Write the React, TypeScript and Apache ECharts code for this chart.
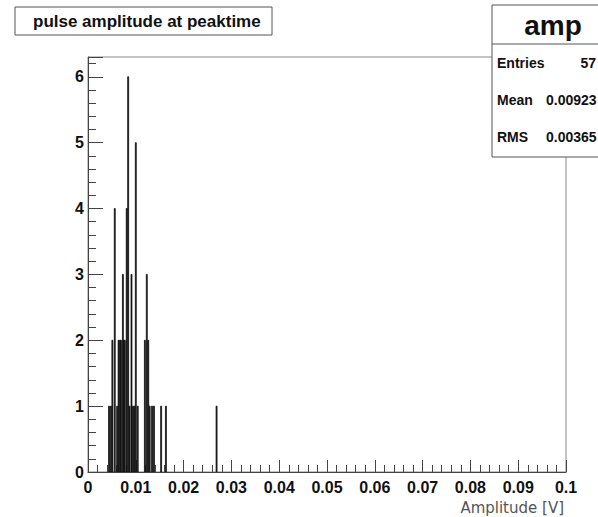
import React, { useEffect, useRef } from "react";
import * as echarts from "echarts";

// Histogram bins (bin centers in V) and counts
const binCenters = [
  0.0044, 0.0048, 0.0051, 0.0056, 0.0061, 0.0064, 0.0067, 0.0069, 0.0073, 0.0075,
  0.0077, 0.0081, 0.0084, 0.0087, 0.0091, 0.0094, 0.0097, 0.0100, 0.0104, 0.0119,
  0.0123, 0.0126, 0.0129, 0.0134, 0.0138, 0.0153, 0.0163, 0.0269,
];
const counts = [
  1, 1, 2, 4, 1, 2, 2, 2, 3, 2,
  2, 4, 6, 1, 3, 1, 1, 5, 1, 2,
  3, 2, 1, 1, 1, 1, 1, 1,
];
const binWidth = 0.0002;

const titleText = "pulse amplitude at peaktime";
const statsName = "amp";
const statLabels = ["Entries", "Mean", "RMS"];
const statValues = ["57", "0.00923", "0.00365"];
const xTitle = "Amplitude [V]";

const FONT = "'Liberation Sans', Arial, Helvetica, sans-serif";

export default function App() {
  const ref = useRef<HTMLDivElement>(null);
  useEffect(() => {
    if (!ref.current) return;
    const chart = echarts.init(ref.current, null, { renderer: "svg" });
    const data = binCenters.map((c, i) => [c, counts[i]]);
    const axisColor = "#444";
    const option: any = {
      animation: false,
      backgroundColor: "#fff",
      grid: {
        left: 88,
        top: 57,
        width: 478,
        height: 415,
        show: true,
        borderColor: "#888",
        borderWidth: 1,
        backgroundColor: "transparent",
      },
      xAxis: [
        {
          type: "value",
          min: 0,
          max: 0.1,
          interval: 0.01,
          axisLine: { show: true, lineStyle: { color: axisColor, width: 1 } },
          axisTick: { show: true, inside: true, length: 12, lineStyle: { color: axisColor } },
          minorTick: { show: true, splitNumber: 5, length: 7, lineStyle: { color: axisColor } },
          splitLine: { show: false },
          axisLabel: {
            margin: 7,
            fontFamily: FONT,
            fontSize: 16,
            fontWeight: "bold",
            color: "#111",
            formatter: (v: number) => String(parseFloat(v.toFixed(3))),
          },
        },
      ],
      yAxis: [
        {
          type: "value",
          min: 0,
          max: 6.3,
          interval: 1,
          axisLine: { show: true, lineStyle: { color: axisColor, width: 1 } },
          axisTick: { show: true, inside: true, length: 15, lineStyle: { color: axisColor } },
          splitLine: { show: false },
          axisLabel: {
            margin: 4,
            fontFamily: FONT,
            fontSize: 16,
            fontWeight: "bold",
            color: "#111",
            formatter: (v: number) => (v > 6.01 ? "" : String(Math.round(v))),
          },
        },
        {
          type: "value",
          position: "left",
          min: 0,
          max: 6.3,
          interval: 0.2,
          axisLine: { show: false },
          axisTick: { show: true, inside: true, length: 8, lineStyle: { color: axisColor } },
          splitLine: { show: false },
          axisLabel: { show: false },
        },
      ],
      series: [
        {
          type: "custom",
          xAxisIndex: 0,
          yAxisIndex: 0,
          data,
          clip: true,
          renderItem: (params: any, api: any) => {
            const x = api.value(0);
            const y = api.value(1);
            const p0 = api.coord([x - binWidth / 2, y]);
            const p1 = api.coord([x + binWidth / 2, 0]);
            return {
              type: "rect",
              shape: {
                x: p0[0],
                y: p0[1],
                width: Math.max(p1[0] - p0[0], 0.8),
                height: p1[1] - p0[1],
              },
              style: { fill: "#111", stroke: "#111", lineWidth: 0.8 },
            };
          },
        },
      ],
      graphic: [
        {
          type: "rect",
          shape: { x: 15, y: 7, width: 257, height: 28 },
          style: { fill: "#fff", stroke: "#555", lineWidth: 1 },
        },
        {
          type: "text",
          x: 33,
          y: 21,
          style: {
            text: titleText,
            font: `bold 17px ${FONT}`,
            fill: "#111",
            verticalAlign: "middle",
          },
        },
        {
          type: "rect",
          shape: { x: 492, y: 5, width: 140, height: 152 },
          style: { fill: "#fff", stroke: "#555", lineWidth: 1 },
        },
        {
          type: "line",
          shape: { x1: 492, y1: 44, x2: 640, y2: 44 },
          style: { stroke: "#555", lineWidth: 1 },
        },
        {
          type: "text",
          x: 553,
          y: 25,
          style: {
            text: statsName,
            font: `bold 28px ${FONT}`,
            fill: "#111",
            align: "center",
            verticalAlign: "middle",
          },
        },
        ...statLabels.map((t, i) => ({
          type: "text",
          x: 497,
          y: 63 + i * 37,
          style: {
            text: t,
            font: `bold 14px ${FONT}`,
            fill: "#111",
            verticalAlign: "middle",
          },
        })),
        ...statValues.map((t, i) => ({
          type: "text",
          x: i === 0 ? 596 : 546,
          y: 63 + i * 37,
          style: {
            text: t,
            font: `bold 14px ${FONT}`,
            fill: "#111",
            align: i === 0 ? "right" : "left",
            verticalAlign: "middle",
          },
        })),
        {
          type: "text",
          x: 564,
          y: 508,
          style: {
            text: xTitle,
            font: `15px 'DejaVu Sans', sans-serif`,
            fill: "#555",
            align: "right",
            verticalAlign: "middle",
          },
        },
      ],
    };
    chart.setOption(option);
    return () => chart.dispose();
  }, []);
  return (
    <div
      ref={ref}
      style={{ position: "absolute", left: 0, top: 0, width: 598, height: 517, background: "#fff" }}
    />
  );
}
